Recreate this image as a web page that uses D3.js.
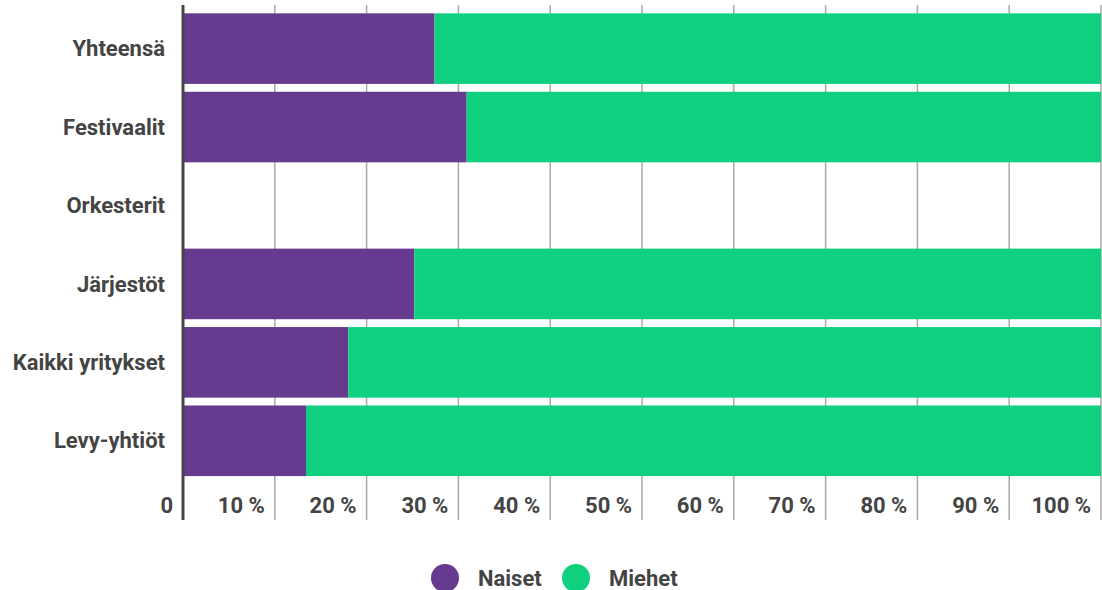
<!DOCTYPE html>
<html>
<head>
<meta charset="utf-8">
<script src="https://cdn.jsdelivr.net/npm/d3@7"></script>
<style>
  body { margin: 0; background: #fff; }
  text { font-family: Roboto, "Noto Sans", sans-serif; font-weight: bold; fill: #444; }
</style>
</head>
<body>
<div id="viz"></div>
<script>
// data
var categories = ["Yhteensä", "Festivaalit", "Orkesterit", "Järjestöt", "Kaikki yritykset", "Levy-yhtiöt"];
var naiset = [27.4, 30.9, null, 25.2, 18.0, 13.4];
var miehet = [72.6, 69.1, null, 74.8, 82.0, 86.6];
var xTicks = [0, 10, 20, 30, 40, 50, 60, 70, 80, 90, 100];
var seriesNames = ["Naiset", "Miehet"];
var seriesColors = ["#663a8f", "#0fd07f"];

var width = 1102, height = 590;
var margin = {top: 5, right: 1, bottom: 70, left: 183};

var svg = d3.select("#viz").append("svg")
    .attr("width", width)
    .attr("height", height);

var xScale = d3.scaleLinear()
    .domain([0, 100])
    .range([margin.left, width - margin.right]);

var yScale = d3.scaleBand()
    .domain(categories)
    .range([9.4, 480])
    .paddingInner(0.1)
    .paddingOuter(0.05);

// grid lines
svg.append("g")
  .selectAll("line")
  .data(xTicks.slice(1))
  .join("line")
    .attr("x1", function(d) { return xScale(d); })
    .attr("x2", function(d) { return xScale(d); })
    .attr("y1", margin.top)
    .attr("y2", 520)
    .attr("stroke", "#aaa")
    .attr("stroke-width", 1.5);

// stacked bars
var rows = categories.map(function(c, i) {
  return {cat: c, vals: [naiset[i], miehet[i]]};
});

var rowG = svg.append("g")
  .selectAll("g")
  .data(rows.filter(function(r) { return r.vals[0] != null; }))
  .join("g");

rowG.selectAll("rect")
  .data(function(r) {
    var start = 0;
    return r.vals.map(function(v, k) {
      var seg = {cat: r.cat, x0: start, x1: start + v, k: k};
      start += v;
      return seg;
    });
  })
  .join("rect")
    .attr("x", function(d) { return xScale(d.x0); })
    .attr("width", function(d) { return xScale(d.x1) - xScale(d.x0); })
    .attr("y", function(d) { return yScale(d.cat); })
    .attr("height", yScale.bandwidth())
    .attr("fill", function(d) { return seriesColors[d.k]; });

// axis line
svg.append("line")
    .attr("x1", xScale(0))
    .attr("x2", xScale(0))
    .attr("y1", margin.top)
    .attr("y2", 520)
    .attr("stroke", "#444")
    .attr("stroke-width", 3);

// category labels
svg.append("g")
  .selectAll("text")
  .data(categories)
  .join("text")
    .attr("x", 165)
    .attr("y", function(d) { return yScale(d) + yScale.bandwidth() / 2; })
    .attr("dy", "0.35em")
    .attr("text-anchor", "end")
    .style("font-size", "22px")
    .text(function(d) { return d; });

// tick labels
svg.append("g")
  .selectAll("text")
  .data(xTicks)
  .join("text")
    .attr("x", function(d) { return xScale(d) - 10; })
    .attr("y", 513)
    .attr("text-anchor", "end")
    .style("font-size", "22px")
    .text(function(d) { return d === 0 ? "0" : d + " %"; });

// legend
var legendX = [445, 576];
var legend = svg.append("g")
  .selectAll("g")
  .data(seriesNames)
  .join("g")
    .attr("transform", function(d, i) { return "translate(" + legendX[i] + ",578)"; });

legend.append("circle")
    .attr("r", 14)
    .attr("fill", function(d, i) { return seriesColors[i]; });

legend.append("text")
    .attr("x", 33)
    .attr("dy", "0.35em")
    .style("font-size", "22px")
    .text(function(d) { return d; });
</script>
</body>
</html>
